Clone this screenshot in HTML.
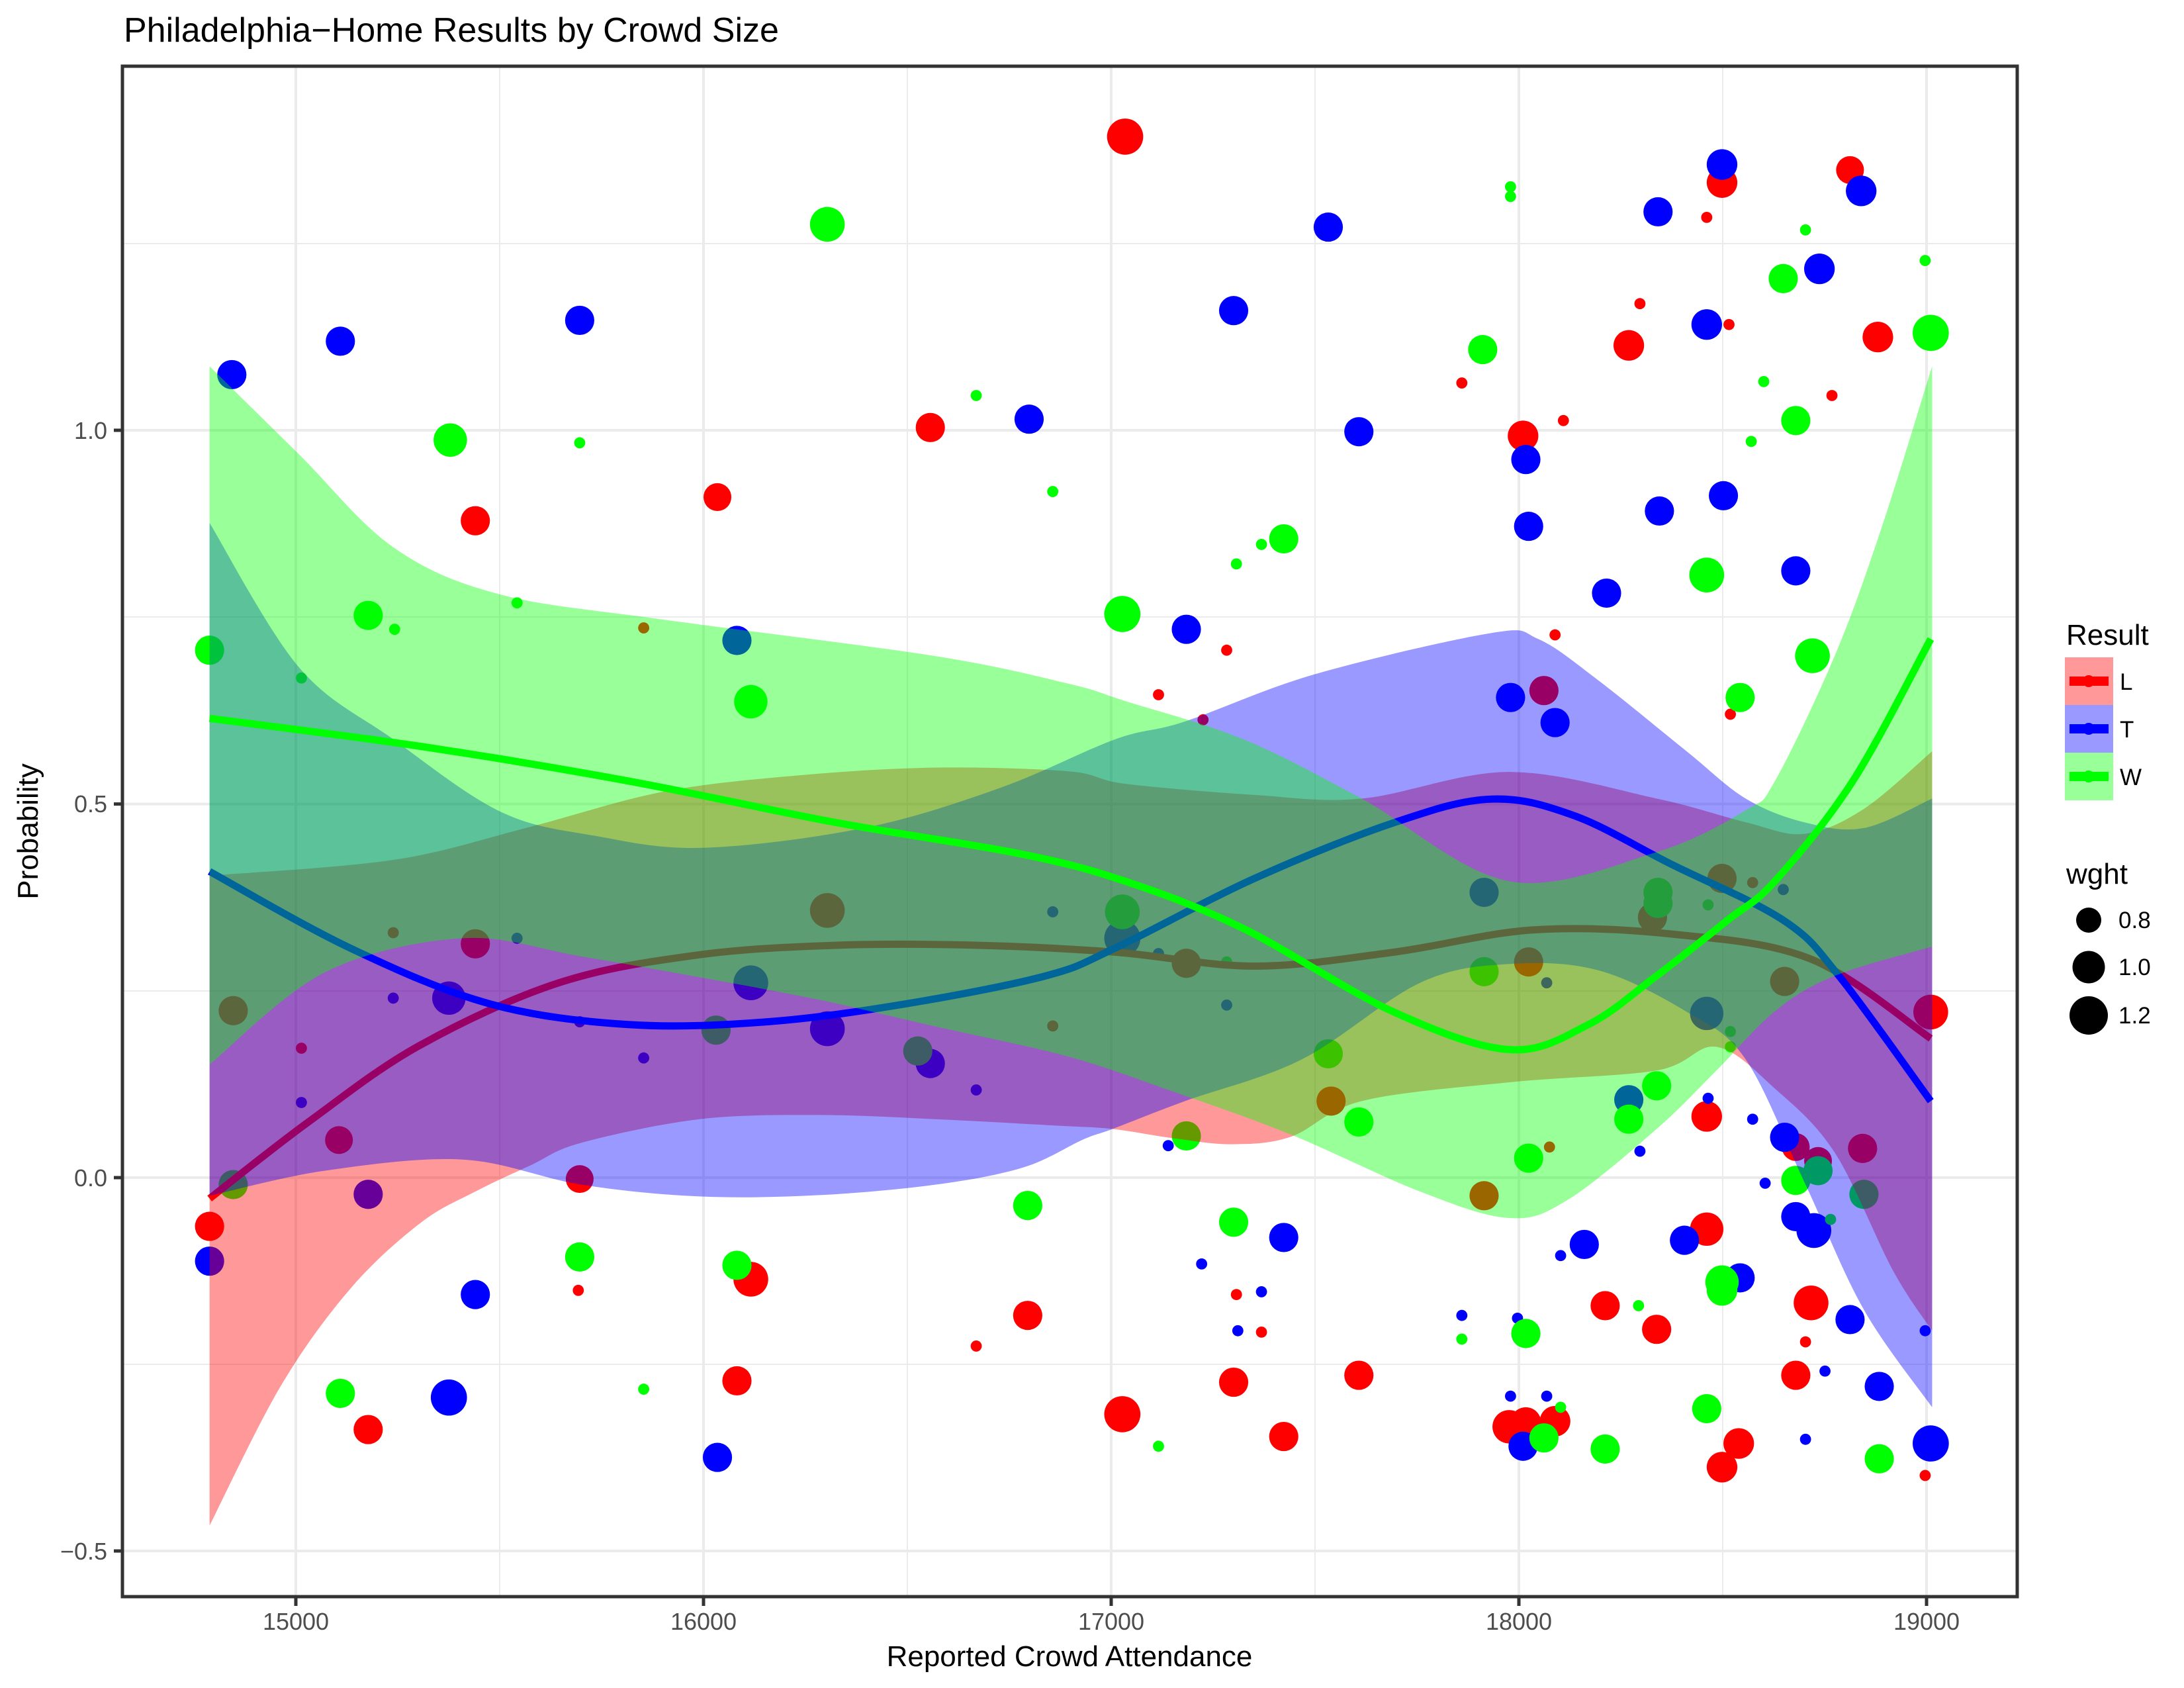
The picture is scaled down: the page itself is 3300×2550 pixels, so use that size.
<!DOCTYPE html>
<html><head><meta charset="utf-8"><style>
html,body{margin:0;padding:0;background:#fff;}
svg{display:block;font-family:"Liberation Sans",Arial,sans-serif;}
</style></head><body>
<svg id="s" width="3300" height="2550" viewBox="0 0 3300 2550" xmlns="http://www.w3.org/2000/svg">
<rect width="3300" height="2550" fill="#fff"/>
<g id="grid" stroke="#EBEBEB" fill="none">
  <line x1="185" x2="3048" y1="368" y2="368" stroke-width="2"/>
  <line x1="185" x2="3048" y1="932" y2="932" stroke-width="2"/>
  <line x1="185" x2="3048" y1="1497" y2="1497" stroke-width="2"/>
  <line x1="185" x2="3048" y1="2061" y2="2061" stroke-width="2"/>
  <line y1="100" y2="2412" x1="755" x2="755" stroke-width="2"/>
  <line y1="100" y2="2412" x1="1371" x2="1371" stroke-width="2"/>
  <line y1="100" y2="2412" x1="1987" x2="1987" stroke-width="2"/>
  <line y1="100" y2="2412" x1="2603" x2="2603" stroke-width="2"/>
  <line x1="185" x2="3048" y1="650" y2="650" stroke-width="4"/>
  <line x1="185" x2="3048" y1="1214.6" y2="1214.6" stroke-width="4"/>
  <line x1="185" x2="3048" y1="1779" y2="1779" stroke-width="4"/>
  <line x1="185" x2="3048" y1="2343" y2="2343" stroke-width="4"/>
  <line y1="100" y2="2412" x1="447" x2="447" stroke-width="4"/>
  <line y1="100" y2="2412" x1="1063" x2="1063" stroke-width="4"/>
  <line y1="100" y2="2412" x1="1679" x2="1679" stroke-width="4"/>
  <line y1="100" y2="2412" x1="2295" x2="2295" stroke-width="4"/>
  <line y1="100" y2="2412" x1="2911" x2="2911" stroke-width="4"/>
</g>
<defs><clipPath id="cp"><rect x="185" y="100" width="2863" height="2312"/></clipPath></defs>
<g clip-path="url(#cp)"><g id="plot" transform="translate(3.4,2.5) scale(2.1024)"></g></g>
<rect x="185" y="100" width="2863" height="2312" fill="none" stroke="#333" stroke-width="5"/>
<g stroke="#333" stroke-width="5">
  <line x1="172" x2="185" y1="650" y2="650"/><line x1="172" x2="185" y1="1214.6" y2="1214.6"/>
  <line x1="172" x2="185" y1="1779" y2="1779"/><line x1="172" x2="185" y1="2343" y2="2343"/>
  <line y1="2412" y2="2426" x1="447" x2="447"/><line y1="2412" y2="2426" x1="1063" x2="1063"/>
  <line y1="2412" y2="2426" x1="1679" x2="1679"/><line y1="2412" y2="2426" x1="2295" x2="2295"/>
  <line y1="2412" y2="2426" x1="2911" x2="2911"/>
</g>
<g fill="#4D4D4D" font-size="36" text-anchor="end">
  <text x="162" y="663">1.0</text><text x="162" y="1227">0.5</text>
  <text x="162" y="1792">0.0</text><text x="162" y="2356">−0.5</text>
</g>
<g fill="#4D4D4D" font-size="36" text-anchor="middle">
  <text x="447" y="2462">15000</text><text x="1063" y="2462">16000</text><text x="1679" y="2462">17000</text>
  <text x="2295" y="2462">18000</text><text x="2911" y="2462">19000</text>
</g>
<text x="187" y="63" font-size="52" fill="#000">Philadelphia−Home Results by Crowd Size</text>
<text x="1616" y="2517" font-size="44" text-anchor="middle" fill="#000">Reported Crowd Attendance</text>
<text transform="translate(57,1256) rotate(-90)" font-size="44" text-anchor="middle" fill="#000">Probability</text>
<g>
  <text x="3122" y="974" font-size="44">Result</text>
  <rect x="3120" y="993" width="73" height="72" fill="#FF9999"/>
  <rect x="3120" y="1065" width="73" height="72" fill="#9999FF"/>
  <rect x="3120" y="1137" width="73" height="72" fill="#99FF99"/>
  <line x1="3127" x2="3186" y1="1029" y2="1029" stroke="#f00" stroke-width="14"/><circle cx="3156" cy="1029" r="9" fill="#f00"/>
  <line x1="3127" x2="3186" y1="1101" y2="1101" stroke="#00f" stroke-width="14"/><circle cx="3156" cy="1101" r="9" fill="#00f"/>
  <line x1="3127" x2="3186" y1="1173" y2="1173" stroke="#0f0" stroke-width="14"/><circle cx="3156" cy="1173" r="9" fill="#0f0"/>
  <g font-size="35"><text x="3203" y="1042">L</text><text x="3203" y="1114">T</text><text x="3203" y="1186">W</text></g>
  <text x="3122" y="1335" font-size="44">wght</text>
  <circle cx="3156" cy="1390" r="19" fill="#000"/><circle cx="3156" cy="1461" r="24.5" fill="#000"/><circle cx="3156" cy="1534" r="29" fill="#000"/>
  <g font-size="35"><text x="3201" y="1402">0.8</text><text x="3201" y="1473">1.0</text><text x="3201" y="1546">1.2</text></g>
</g>
</svg>
<script>
var NS="http://www.w3.org/2000/svg",P=document.getElementById("plot");
function el(t,a){var e=document.createElementNS(NS,t);for(var k in a)e.setAttribute(k,a[k]);P.appendChild(e);return e;}
var R="#ff0000",B="#0000ff",G="#00ff00";
var pts=[
[807,97,R,13],[1236,130,R,11],[1328,121,R,10],[1348,241,R,11],[1169,247,R,11],[667,306,R,10.5],[1093,312,R,11],[514,356,R,10],[340,373,R,10.5],[1108,495,R,10.5],[1225,801,R,11],[1289,823,R,10],[1305,833,R,10],[149,880,R,10.5],[415,846,R,10],[242,818,R,10],[1225,882,R,12],[1300,935,R,12.5],[538,918,R,12.5],[737,944,R,10.5],[1152,937,R,10.5],[1189,954,R,10.5],[528,991,R,10.5],[885,992,R,10.5],[975,987,R,10.5],[1289,987,R,10.5],[805,1015,R,13],[1083,1024,R,12],[1095,1021,R,11],[1116,1020,R,11],[263,1026,R,10.5],[921,1031,R,10.5],[1248,1036,R,11],[1236,1053,R,11],[1386,726,R,12.5],[1337,824,R,10.5],
[1225,155,R,4],[1177,217,R,4],[1241,232,R,4],[1315,283,R,4],[1049,274,R,4],[1122,301,R,4],[880,466,R,4],[831,498,R,4],[863,516,R,4],[1116,455,R,4],[1242,512,R,4],[215,752,R,4],[1112,823,R,4],[414,926,R,4],[887,929,R,4],[905,956,R,4],[700,966,R,4],[1296,963,R,4],[1382,1059,R,4],
[1236,630,R,10.5],[593,653,R,12.5],[166,725,R,10.5],[955,790,R,10.5],[1065,858,R,10.5],[1097,690,R,10.5],[1281,704,R,10.5],[851,691,R,10.5],[1186,658,R,10.5],[340,677,R,10.5],[1258,633,R,4],[281,669,R,4],[461,450,R,4],[755,736,R,4],
[165,268,B,10.5],[243,244,B,10.5],[415,229,B,10.5],[885,222,B,10.5],[953,162,B,10.5],[1190,151,B,10.5],[1236,117,B,11],[1336,136,B,11],[1306,192,B,11],[1225,232,B,11],[975,309,B,10.5],[738,300,B,10.5],[1095,329,B,10.5],[1097,377,B,10.5],[1191,366,B,10.5],[1237,355,B,10.5],[1289,409,B,10.5],[851,451,B,10.5],[1153,425,B,10.5],[1084,500,B,10.5],[1116,518,B,10.5],[528,459,B,10.5],[1065,640,B,10.5],[1169,789,B,10.5],[1225,727,B,12],[805,673,B,13],[593,738,B,12.5],[538,705,B,12.5],[321,716,B,12],[667,763,B,10.5],[1281,816,B,10.5],[1289,873,B,10.5],[1302,883,B,12.5],[1209,890,B,10.5],[1137,893,B,10.5],[921,888,B,10.5],[1249,917,B,10.5],[340,929,B,10.5],[321,1003,B,13],[149,905,B,10.5],[514,1046,B,10.5],[1093,1038,B,10.5],[1328,947,B,10.5],[1349,995,B,10.5],[1386,1036,B,13],[263,857,B,10.5],[838,822,B,4],
[215,791,B,4],[281,716,B,4],[370,673,B,4],[415,733,B,4],[461,759,B,4],[700,782,B,4],[755,654,B,4],[831,684,B,4],[880,721,B,4],[862,907,B,4],[888,955,B,4],[905,927,B,4],[1049,944,B,4],[1089,946,B,4],[1120,901,B,4],[1177,826,B,4],[1226,788,B,4],[1258,803,B,4],[1267,849,B,4],[1310,984,B,4],[1296,1033,B,4],[1382,955,B,4],[1110,1002,B,4],[1084,1002,B,4],[1280,638,B,4],[1110,705,B,4],
[149,466,G,10.5],[263,441,G,10.5],[322,315,G,12],[593,160,G,12.5],[538,503,G,12],[805,440,G,13],[921,386,G,10.5],[1064,250,G,10.5],[1280,199,G,10.5],[1289,301,G,10.5],[1301,470,G,12.5],[1225,412,G,12.5],[1249,500,G,10.5],[1190,640,G,10.5],[1169,803,G,10.5],[1189,779,G,10.5],[953,756,G,10.5],[975,805,G,10.5],[1097,831,G,10.5],[851,815,G,10.5],[885,877,G,10.5],[737,865,G,10.5],[415,902,G,10.5],[528,908,G,10.5],[1236,920,G,12],[1236,926,G,11],[1289,847,G,10.5],[1305,840,G,10.5],[1338,857,G,10.5],[1386,238,G,13],[243,1000,G,10.5],[1095,957,G,10.5],[1225,1011,G,10.5],[1108,1032,G,10.5],[1152,1040,G,10.5],[1349,1047,G,10.5],[1065,697,G,10.5],[805,654,G,12.5],[166,850,G,10.5],[1190,648,G,10.5],[513,739,G,10.5],[658,754,G,10.5],
[1084,133,G,4],[1084,140,G,4],[700,283,G,4],[755,352,G,4],[415,317,G,4],[215,486,G,4],[282,451,G,4],[370,432,G,4],[887,404,G,4],[905,390,G,4],[1257,316,G,4],[1266,273,G,4],[1296,164,G,4],[1382,186,G,4],[1226,649,G,4],[1242,751,G,4],[1176,937,G,4],[1049,961,G,4],[831,1038,G,4],[461,997,G,4],[1296,847,G,4],[1314,875,G,4],[1120,1010,G,4],[880,690,G,4],[1242,740,G,4]
];
pts.forEach(function(p){el("circle",{cx:p[0],cy:p[1],r:p[3],fill:p[2]});});
function cr(a){var d="M"+a[0][0]+","+a[0][1];for(var i=0;i<a.length-1;i++){var p0=a[Math.max(0,i-1)],p1=a[i],p2=a[i+1],p3=a[Math.min(a.length-1,i+2)];
d+=" C"+(p1[0]+(p2[0]-p0[0])/6)+","+(p1[1]+(p2[1]-p0[1])/6)+" "+(p2[0]-(p3[0]-p1[0])/6)+","+(p2[1]-(p3[1]-p1[1])/6)+" "+p2[0]+","+p2[1];}return d;}
function band(up,lo,line,col){
 var lr=lo.slice().reverse();var d=cr(up)+" L"+lr[0][0]+","+lr[0][1]+cr(lr).replace(/^M[^ ]+/,"")+"Z";
 el("path",{d:d,fill:col,"fill-opacity":0.4,stroke:"none"});
 el("path",{d:cr(line),fill:"none",stroke:col,"stroke-width":5.2});
}
band([[149,628],[281,616.7],[377,593.6],[475,567.7],[572,556],[669,550.4],[766,553],[807,562],[900,570],[977,572.6],[1083,553.5],[1189,572.6],[1253,589.6],[1295,598],[1338,580],[1387,538.6]],
 [[149,1095],[200,995],[250,925],[300,878],[340,855],[380,836],[416,820],[501,803],[586,800],[671,803],[756,807.5],[798,810],[841,816.6],[883.5,821],[926,815.7],[977,790],[1083,776.5],[1189,768],[1232,751],[1274,781],[1317,827],[1359,912],[1387,955]],
 [[149,860],[220,805],[300,750],[400,705],[500,685],[600,678],[700,678],[800,683],[900,693],[1000,683],[1100,667],[1200,670],[1300,688],[1386,745]],"#ff0000");
band([[149,374.6],[213,478],[281,530],[358,582],[426,599.4],[504,608],[620,593.6],[717,565],[800,530],[849.5,517.4],[943,483.4],[1070,453.7],[1104,458],[1147,487.6],[1210.5,538.6],[1253,572.6],[1295,589.6],[1338,593.8],[1387,572.6]],
 [[149,858],[232,840],[331,832],[416,850],[501,858.5],[586,857.6],[671,850],[734,837.6],[777,817.5],[798,810],[850,790],[934,760],[1019,705],[1083,691.5],[1147,696],[1210,725.5],[1253,760],[1296,850],[1338,940],[1387,1010]],
 [[149,625],[250,680],[350,720],[450,735],[550,733],[650,720],[750,700],[800,680],[900,630],[1000,590],[1070,573],[1130,585],[1200,620],[1280,660],[1320,700],[1386,790]],"#0000ff");
band([[149,262],[213,325],[281,392],[358,426],[475,444],[669,470],[766,490],[807,502.5],[892,530],[977,572.6],[1083,632],[1189,611],[1253,581],[1274,560],[1317,470],[1350,380],[1387,262]],
 [[149,763.7],[232,697.4],[331,673],[416,686],[501,701],[586,717],[669,736],[766,758],[841,783],[926,814],[1019,855],[1083,874],[1125,861],[1189,810],[1232,768],[1274,725.5],[1317,700],[1387,679]],
 [[149,515],[300,535],[450,560],[600,590],[730,612],[807,632],[892,666],[998,725],[1083,753],[1140,735],[1189,700],[1240,660],[1274,632],[1330,560],[1386,458]],"#00ff00");
</script>
</body></html>
